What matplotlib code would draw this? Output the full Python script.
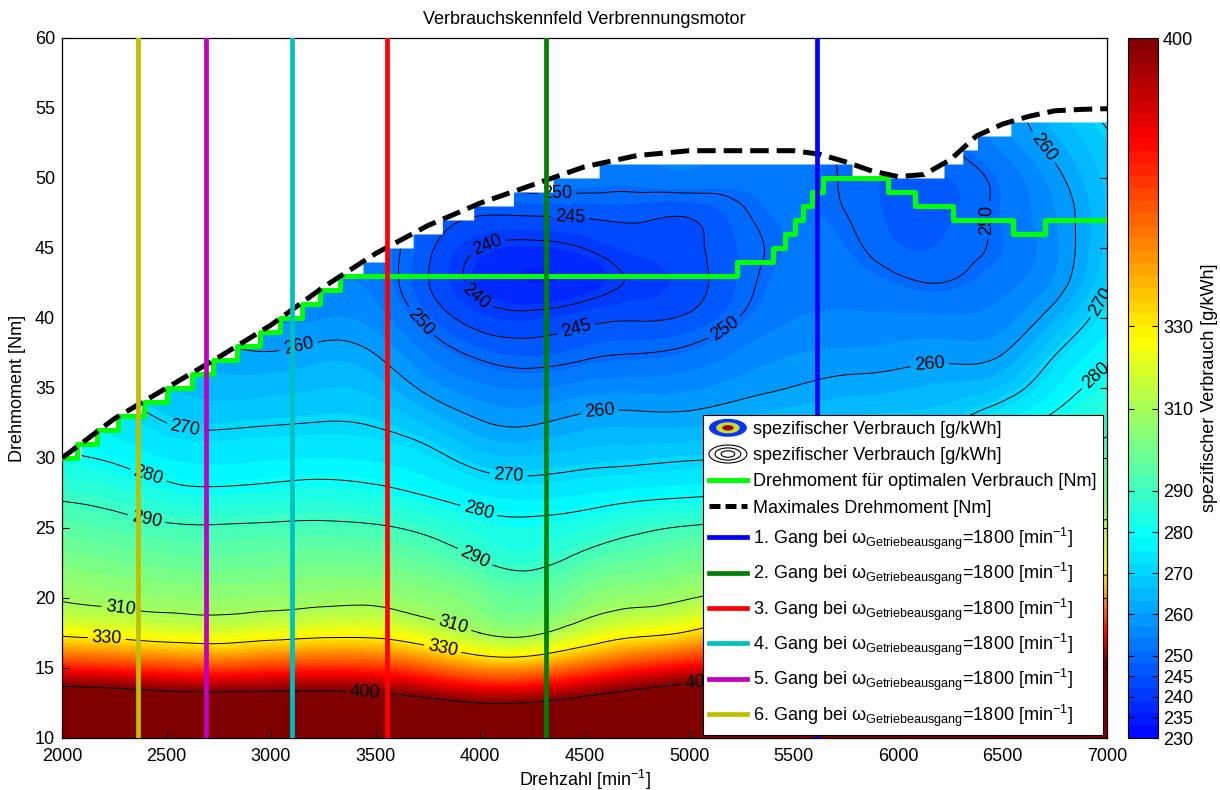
import numpy as np
import matplotlib
matplotlib.use("Agg")
import matplotlib.pyplot as plt
import matplotlib.tri as mtri
from matplotlib.colors import LinearSegmentedColormap, ListedColormap, Normalize
from matplotlib.patches import Ellipse, Patch
from matplotlib.lines import Line2D
from matplotlib.legend_handler import HandlerBase
from matplotlib.cm import ScalarMappable

plt.rcParams['font.family'] = ['Liberation Sans', 'DejaVu Sans']
plt.rcParams['mathtext.fontset'] = 'custom'
plt.rcParams['mathtext.rm'] = 'Liberation Sans'
plt.rcParams['mathtext.it'] = 'Liberation Sans:italic'
plt.rcParams['mathtext.bf'] = 'Liberation Sans:bold'

# ---------------------------------------------------------------- data
# engine speed grid [1/min] and torque grid [Nm]
speed_grid = np.arange(2000, 7001, 250)
torque_grid = np.arange(10.0, 55.01, 2.5)

# specific fuel consumption [g/kWh]; one row per torque (10 ... 55 Nm),
# columns are the speeds 2000, 2250, ..., 7000 1/min
bsfc_rows = [
    [470, 470, 470, 469, 469, 469, 467, 460, 450, 452, 460, 470, 478, 480, 485, 490, 495, 500, 505, 505, 510],
    [424, 422, 418, 417, 417, 417, 414.7, 407.4, 400, 401, 409.5, 419, 427, 431.5, 435.7, 440, 444, 448, 452, 455, 458],
    [372, 369, 364.5, 362.8, 366, 367.8, 366.4, 357.6, 347, 347.2, 358.4, 369.7, 377.9, 383.7, 387.6, 391, 394.3, 397.3, 400, 404, 406],
    [326.9, 324.5, 321.4, 320, 323, 325.5, 325.3, 318.4, 310, 308.2, 317.8, 326, 331.8, 343, 348.7, 353.8, 358.6, 363.7, 368.2, 371.8, 374.3],
    [309.2, 307.5, 306.1, 305.6, 306.4, 307.5, 307.7, 304.5, 300.5, 297.1, 303.2, 306.7, 309.6, 313.8, 318.2, 322.5, 326.3, 330, 336.4, 341, 345.2],
    [302.2, 300.4, 298.7, 298.2, 299, 299.7, 299.3, 296.5, 291, 287.9, 293.8, 297.6, 300.2, 301.8, 303.6, 305.9, 308.8, 313.3, 317.9, 321.6, 324.3],
    [295.3, 293.4, 291.3, 290.9, 291.5, 291.9, 291, 288.1, 283.5, 282, 284.4, 288.2, 290.8, 292, 293.6, 295.7, 298.3, 301.7, 305.2, 308.9, 312.4],
    [288.3, 286.2, 282.5, 281.5, 282.3, 283, 281.9, 279.2, 275.4, 274.1, 275.5, 277.3, 278.5, 279.6, 281.6, 284.5, 287.7, 291.3, 295.2, 299.4, 303.1],
    [281, 279, 275.8, 274.8, 275.5, 276, 275.2, 272.4, 267.3, 266.4, 267.8, 268.5, 269.4, 270, 271.9, 273.8, 276.7, 281.2, 286, 290, 294.5],
    [275, 274, 270, 268.9, 269.6, 270.2, 269.4, 265.4, 260.5, 259.6, 261.7, 262.1, 262.2, 263.8, 265.7, 266.9, 268, 270, 276.1, 282.2, 287.7],
    [270, 268, 266, 264.5, 264.9, 265.9, 264.6, 258.7, 254.8, 253.6, 255.3, 255.9, 256.4, 258.4, 260.2, 261.7, 262.5, 263.8, 266.5, 275.6, 283],
    [266, 264, 262, 261, 260.2, 261.7, 259.8, 253.4, 248.8, 247.4, 248.9, 249.9, 251.2, 254.4, 256.8, 257.5, 258.1, 258.5, 259.8, 269.5, 278.3],
    [263, 261, 259, 258, 256.5, 256.8, 255.5, 248.4, 242.7, 241.5, 243.4, 244.5, 245.7, 250.3, 253.8, 254.5, 254.5, 254.4, 255.5, 262.7, 273.7],
    [260, 258.5, 257, 255.5, 253.5, 253.5, 253, 245.2, 238.5, 236, 237.5, 240.6, 243.2, 248.5, 252.2, 252.5, 250.8, 250.2, 252.8, 257.6, 269.2],
    [258, 256.5, 255, 254, 252, 251, 252, 246, 240, 238.5, 240.1, 242.7, 243.9, 248.3, 251.3, 251, 248.2, 248.5, 250.9, 256.3, 266.8],
    [257, 255.5, 254, 253, 251, 249.5, 249, 247.5, 245.5, 245.7, 246, 246.3, 245.7, 249.5, 251.3, 250, 247.3, 247.7, 251.2, 256.8, 266.3],
    [256, 255, 253.5, 252.5, 250.5, 249, 248, 248.5, 250.5, 252.5, 252.5, 252.3, 253, 252, 252, 249.5, 247.6, 248, 251.5, 258.5, 267],
    [256, 255, 253.5, 252.5, 250.5, 249, 248, 249, 252, 255, 255, 254.5, 254.5, 254.5, 253, 249.5, 248.5, 250.3, 255, 262, 268.8],
    [256, 255, 253.5, 252.5, 250.5, 249, 248, 249.5, 253, 257, 257, 256.5, 256.5, 257, 255, 251, 250, 252.5, 257.5, 265, 272],
]

# full-load torque curve
maxT_speed = [2000, 2250, 2500, 2750, 3000, 3250, 3500, 3750, 4000, 4250, 4500, 4750, 5000,
              5250, 5500, 5625, 5750, 5875, 6000, 6125, 6250, 6375, 6500, 6625, 6750, 6875, 7000]
maxT_torque = [30.0, 32.8, 35.0, 37.2, 39.5, 42.2, 44.6, 46.6, 48.2, 49.5, 50.8, 51.6, 51.95,
               51.95, 51.95, 51.7, 51.15, 50.5, 50.1, 50.25, 51.3, 53.0, 53.85, 54.4, 54.8, 54.9, 54.95]

# torque for best consumption (start speed of each step)
opt_speed = [2000, 2070, 2166, 2270, 2390, 2501, 2620, 2724, 2836, 2947, 3043, 3147, 3234, 3330,
             5228, 5403, 5459, 5507, 5547, 5587, 5640, 5954, 6081, 6265, 6552, 6703, 7000]
opt_torque = [30, 31, 32, 33, 34, 35, 36, 37, 38, 39, 40, 41, 42, 43,
              44, 45, 46, 47, 48, 49, 50, 49, 48, 47, 46, 47, 47]

# gears: overall ratio engine / gearbox output, gearbox output speed
gear_numbers = [1, 2, 3, 4, 5, 6]
gear_ratios = [3.118, 2.398, 1.975, 1.722, 1.494, 1.313]
output_speed = 1800
gear_colors = [(0, 0, 1), (0, 0.5, 0), (1, 0, 0), (0, 0.75, 0.75), (0.75, 0, 0.75), (0.75, 0.75, 0)]

line_levels = [240, 245, 250, 260, 270, 280, 290, 310, 330, 400]
cbar_ticks = [230, 235, 240, 245, 250, 260, 270, 280, 290, 310, 330, 400]
vmin, vmax = 230, 400

# contour label anchor points (speed, torque)
label_positions = [
    (4032, 45.3), (3968, 41.3),
    (4431, 47.2), (4463, 39.1),
    (4367, 48.8), (3705, 39.6), (5180, 39.1), (6456, 47.0),
    (3131, 38.2), (4574, 33.2), (6153, 36.4), (6695, 52.2),
    (2589, 32.1), (4136, 28.55), (6990, 41.0),
    (2405, 28.4), (3992, 26.2), (6950, 35.8),
    (2405, 25.7), (3968, 22.7),
    (2278, 19.0), (3864, 17.7),
    (2214, 16.9), (3817, 16.05),
    (3450, 13.2), (5055, 13.8),
]

# ---------------------------------------------------------------- colormap (MATLAB style jet)
_jet = LinearSegmentedColormap('jet_m', {
    'red':   [(0, 0, 0), (0.375, 0, 0), (0.625, 1, 1), (0.875, 1, 1), (1, 0.5, 0.5)],
    'green': [(0, 0, 0), (0.125, 0, 0), (0.375, 1, 1), (0.625, 1, 1), (0.875, 0, 0), (1, 0, 0)],
    'blue':  [(0, 0.5, 0.5), (0.125, 1, 1), (0.375, 1, 1), (0.625, 0, 0), (1, 0, 0)],
})
n_col = 56
cmap = ListedColormap(_jet(0.125 + 0.875 * (np.arange(n_col) + 0.5) / n_col))
cmap.set_over(_jet(1.0))
cmap.set_under(_jet(0.125))
norm = Normalize(vmin=vmin, vmax=vmax)

# ---------------------------------------------------------------- smooth field
S, T = np.meshgrid(speed_grid, torque_grid)
Z = np.array(bsfc_rows, dtype=float)
tri = mtri.Triangulation(S.ravel() / 100.0, T.ravel())
interp = mtri.CubicTriInterpolator(tri, Z.ravel(), kind='min_E')
tri_f, z_f = mtri.UniformTriRefiner(tri).refine_field(Z.ravel(), triinterpolator=interp, subdiv=3)
tri_plot = mtri.Triangulation(tri_f.x * 100.0, tri_f.y, tri_f.triangles)

# ---------------------------------------------------------------- figure
fig = plt.figure(figsize=(12.2, 7.9), dpi=100)
ax = fig.add_axes([62 / 1220, 52 / 790, 1045 / 1220, 700 / 790])
ax.set_xlim(2000, 7000)
ax.set_ylim(10, 60)

fill_levels = np.arange(vmin, vmax + 0.1, 1.0)
ax.tricontourf(tri_plot, z_f, levels=fill_levels, cmap=cmap, norm=norm, extend='both', zorder=1)
cs = ax.tricontour(tri_plot, z_f, levels=line_levels, colors='k', linewidths=0.7, zorder=2)

# region above the full-load curve is not part of the map
speed_fine = np.arange(2000, 7001, 10)
fill_top = np.floor(np.interp(speed_fine, maxT_speed, maxT_torque) + 1e-6)
ax.fill_between(speed_fine, fill_top, 60, step='post', color='white', linewidth=0, zorder=2.5)

texts = ax.clabel(cs, fmt='%d', fontsize=13, inline=True, inline_spacing=4, manual=label_positions)
for t in texts:
    t.set_clip_on(True)
    t.set_clip_path(ax.patch)

opt_line, = ax.plot(opt_speed, opt_torque, color=(0, 1, 0), lw=3.6, drawstyle='steps-post', zorder=4)
max_line, = ax.plot(maxT_speed, maxT_torque, color='k', lw=3.6, dashes=(3.7, 1.6), zorder=5)

for r, c in zip(gear_ratios, gear_colors):
    ax.axvline(r * output_speed, color=c, lw=3.4, zorder=6)

ax.set_xticks(np.arange(2000, 7001, 500))
ax.set_yticks(np.arange(10, 61, 5))
ax.tick_params(direction='in', length=5, width=0.8, top=True, right=True, labelsize=13)
ax.tick_params(axis='x', pad=7)
ax.tick_params(axis='y', pad=5)
for s in ax.spines.values():
    s.set_linewidth(0.9)
ax.set_xlabel('Drehzahl [min$^{-1}$]', fontsize=13, labelpad=2)
ax.set_ylabel('Drehmoment [Nm]', fontsize=13, labelpad=6)
ax.set_title('Verbrauchskennfeld Verbrennungsmotor', fontsize=13, pad=10)


# ---------------------------------------------------------------- legend
class FilledLevelsHandler(HandlerBase):
    def create_artists(self, legend, orig_handle, xdescent, ydescent, width, height, fontsize, trans):
        cx, cy = 0.5 * width - xdescent, 0.5 * height - ydescent
        arts = []
        for frac, col in ((1.0, '#0a32ff'), (0.62, '#c8dc28'), (0.3, '#990000')):
            arts.append(Ellipse((cx, cy), width * frac, height * 1.3 * frac,
                                facecolor=col, edgecolor='none', transform=trans))
        return arts


class LevelLinesHandler(HandlerBase):
    def create_artists(self, legend, orig_handle, xdescent, ydescent, width, height, fontsize, trans):
        cx, cy = 0.5 * width - xdescent, 0.5 * height - ydescent
        arts = []
        for frac in (1.0, 0.68, 0.36):
            arts.append(Ellipse((cx, cy), width * frac, height * 1.3 * frac,
                                facecolor='none', edgecolor='k', lw=0.8, transform=trans))
        return arts


h_fill, h_lines = Patch(), Patch()
handles = [h_fill, h_lines,
           Line2D([], [], color=(0, 1, 0), lw=3.6),
           Line2D([], [], color='k', lw=3.6, dashes=(2.2, 1.0))] + \
          [Line2D([], [], color=c, lw=3.4) for c in gear_colors]
labels = ['spezifischer Verbrauch [g/kWh]', 'spezifischer Verbrauch [g/kWh]',
          'Drehmoment für optimalen Verbrauch [Nm]', 'Maximales Drehmoment [Nm]'] + \
         [f'{n}. Gang bei $\\mathrm{{\\omega}}_{{\\mathrm{{Getriebeausgang}}}}$={output_speed} [min$^{{-1}}$]'
          for n in gear_numbers]
leg = ax.legend(handles, labels, loc='lower right', bbox_to_anchor=(0.9962, 0.0043),
                borderaxespad=0, fontsize=13, handlelength=2.1, handleheight=0.8,
                handletextpad=0.35, labelspacing=0.5, borderpad=0.35,
                fancybox=False, framealpha=1, edgecolor='k',
                handler_map={h_fill: FilledLevelsHandler(), h_lines: LevelLinesHandler()})
leg.get_frame().set_linewidth(0.8)
leg.set_zorder(10)

# ---------------------------------------------------------------- colorbar
cax = fig.add_axes([1128 / 1220, 52 / 790, 30 / 1220, 700 / 790])
cb = fig.colorbar(ScalarMappable(norm=norm, cmap=cmap), cax=cax, ticks=cbar_ticks)
cb.outline.set_linewidth(0.8)
cax.tick_params(direction='in', length=4, width=0.8, left=True, right=True, labelsize=13)
cb.set_label('spezifischer Verbrauch [g/kWh]', fontsize=13, labelpad=6)

fig.savefig('out.png', dpi=100)
